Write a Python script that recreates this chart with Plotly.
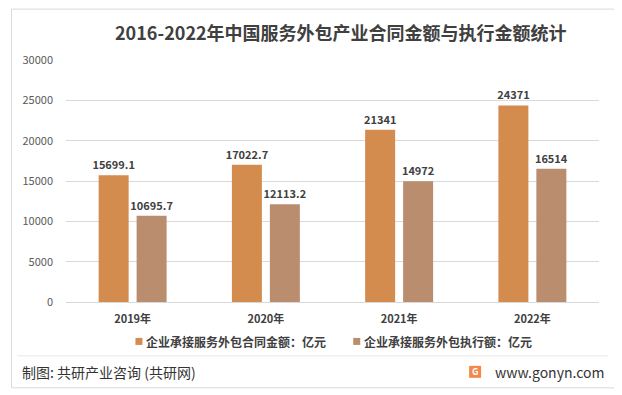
import plotly.graph_objects as go

categories = ["2019年", "2020年", "2021年", "2022年"]
contract_values = [15699.1, 17022.7, 21341, 24371]
executed_values = [10695.7, 12113.2, 14972, 16514]
contract_labels = ["15699.1", "17022.7", "21341", "24371"]
executed_labels = ["10695.7", "12113.2", "14972", "16514"]
series_names = ["企业承接服务外包合同金额：亿元", "企业承接服务外包执行额：亿元"]
series_colors = ["#D38B4E", "#BA8D6E"]
y_ticks = [0, 5000, 10000, 15000, 20000, 25000, 30000]

FONT = "Noto Sans CJK SC"
OFF = 8  # default page body margin
W, H = 622 - OFF, 395 - OFF
L, R, T, B = 65.5, 599, 59.5, 302  # plot area in page pixels

def px(x):
    return (x - L) / (R - L)

def py(y):
    return (B - y) / (B - T)

fig = go.Figure()
for vals, labels, name, color in [
    (contract_values, contract_labels, series_names[0], series_colors[0]),
    (executed_values, executed_labels, series_names[1], series_colors[1]),
]:
    fig.add_trace(go.Bar(
        x=categories, y=vals, name=name,
        marker=dict(color=color, line=dict(width=0)),
        text=labels, textposition="outside", cliponaxis=False, constraintext="none",
        textfont=dict(family=FONT, size=11, color="#404040", weight="bold"),
        showlegend=False, hoverinfo="skip",
    ))

shapes = [
    # outer frame
    dict(type="rect", xref="paper", yref="paper", x0=px(11), x1=px(616), y0=py(388), y1=py(8.5),
         line=dict(color="#D9D9D9", width=1), fillcolor="rgba(0,0,0,0)", layer="below"),
    # footer separator
    dict(type="line", xref="paper", yref="paper", x0=px(17), x1=px(608), y0=py(356), y1=py(356),
         line=dict(color="#E6E6E6", width=1)),
    # logo
    dict(type="rect", xref="paper", yref="paper", x0=px(469), x1=px(481), y0=py(378), y1=py(366),
         line=dict(width=0), fillcolor="#F2894A"),
    # legend squares
    dict(type="rect", xref="paper", yref="paper", x0=px(135), x1=px(142), y0=py(345), y1=py(338),
         line=dict(width=0), fillcolor=series_colors[0]),
    dict(type="rect", xref="paper", yref="paper", x0=px(353), x1=px(360), y0=py(345), y1=py(338),
         line=dict(width=0), fillcolor=series_colors[1]),
]

annotations = [
    dict(text="<b>2016-2022年中国服务外包产业合同金额与执行金额统计</b>", xref="paper", yref="paper",
         x=px(341), y=py(31), xanchor="center", yanchor="middle", showarrow=False,
         font=dict(family=FONT, size=18, color="#404040")),
    dict(text=series_names[0], xref="paper", yref="paper",
         x=px(144), y=py(341.5), xanchor="left", yanchor="middle", showarrow=False,
         font=dict(family=FONT, size=12, color="#404040", weight="bold")),
    dict(text=series_names[1], xref="paper", yref="paper",
         x=px(362), y=py(341.5), xanchor="left", yanchor="middle", showarrow=False,
         font=dict(family=FONT, size=12, color="#404040", weight="bold")),
    dict(text="制图: 共研产业咨询 (共研网)", xref="paper", yref="paper",
         x=px(19), y=py(372), xanchor="left", yanchor="middle", showarrow=False,
         font=dict(family=FONT, size=14, color="#333333")),
    dict(text="www.gonyn.com", xref="paper", yref="paper",
         x=px(606), y=py(372), xanchor="right", yanchor="middle", showarrow=False,
         font=dict(family=FONT, size=14, color="#333333")),
    dict(text="<b>G</b>", xref="paper", yref="paper",
         x=px(475), y=py(372), xanchor="center", yanchor="middle", showarrow=False,
         font=dict(family=FONT, size=9, color="#FFFFFF")),
]

fig.update_layout(
    width=W, height=H,
    margin=dict(l=L - OFF, r=W - (R - OFF), t=T - OFF, b=H - (B - OFF), pad=0),
    paper_bgcolor="#FFFFFF", plot_bgcolor="#FFFFFF",
    barmode="group", bargap=0.43, bargroupgap=0.21,
    font=dict(family=FONT, color="#595959"),
    showlegend=False,
    shapes=shapes, annotations=annotations,
)
fig.update_xaxes(
    showgrid=False, showline=True, linecolor="#D9D9D9", linewidth=1,
    ticks="", tickfont=dict(family=FONT, size=11, color="#404040", weight="bold"),
    ticklabelstandoff=7,
)
fig.update_yaxes(
    range=[0, 30000], tickvals=y_ticks, ticktext=[str(v) for v in y_ticks],
    showgrid=True, gridcolor="#D9D9D9", gridwidth=1, zeroline=False, showline=False,
    tickfont=dict(family=FONT, size=11, color="#595959"), ticks="", ticklabelstandoff=12,
)

fig.write_html("out.html")
